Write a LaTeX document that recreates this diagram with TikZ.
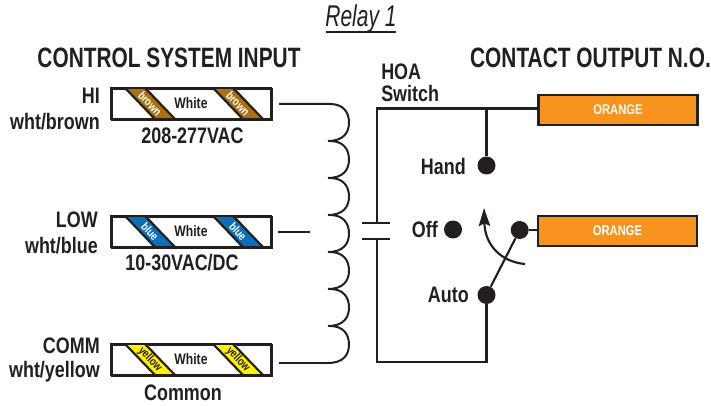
\documentclass[tikz,border=0pt]{standalone}
\usepackage{fontspec}
\setmainfont[FakeStretch=0.80]{Liberation Sans}
\newfontfamily\headfont[FakeStretch=0.745]{Liberation Sans}
\newfontfamily\titlefont[FakeStretch=0.70]{Liberation Sans}
\usetikzlibrary{arrows.meta}
\definecolor{ink}{HTML}{231F20}
\definecolor{orangeC}{HTML}{F7941E}
\definecolor{brownC}{HTML}{A9720E}
\definecolor{blueC}{HTML}{0A6EB8}
\definecolor{yellowC}{HTML}{FFF200}
\tikzset{
  wire/.style={draw=ink,line width=1.6pt},
  thin wire/.style={draw=ink,line width=1.5pt},
  tag/.style={draw=ink,line width=1.6pt,fill=white},
  lab/.style={inner sep=0pt,text=ink,font=\fontsize{16.8}{18}\selectfont\bfseries},
  head/.style={inner sep=0pt,text=ink,font=\headfont\fontsize{21}{23}\selectfont\bfseries},
  stripetxt/.style={inner sep=0pt,rotate=-47,font=\fontsize{8.8}{10}\selectfont\bfseries},
  dot/.style={circle,fill=ink,inner sep=0pt,minimum size=13.5pt},
  outbox/.style={draw=ink,line width=1.8pt,fill=orangeC,inner sep=0pt,minimum width=119.5pt,minimum height=22.5pt,
     text=white,font=\fontsize{10.5}{12}\selectfont\bfseries},
}
\newcommand{\wiretag}[5]{% #1 name, #2 top y, #3 color, #4 label, #5 label colour
  \node[tag,inner sep=0pt,minimum width=120pt,minimum height=23pt,anchor=north west] (#1) at (111,#2) {};
  \foreach \sx in {0,88}{
    \fill[#3] ({125+\sx},#2) -- ({147+\sx},#2) -- ({175+\sx},{#2+31}) -- ({153+\sx},{#2+31}) -- cycle;
    \draw[wire] ({125+\sx},#2) -- ({155+\sx},{#2+31});
    \draw[wire] ({145+\sx},#2) -- ({175+\sx},{#2+31});
    \node[stripetxt,text=#5] at ({150+\sx},{#2+15.5}) {#4};
  }
  \draw[tag,fill=none] (111,#2) rectangle (271,{#2+31});
  \node[lab,font=\fontsize{11.4}{13}\selectfont\bfseries] at (191,{#2+15.5}) {White};
}
\begin{document}
\begin{tikzpicture}[x=0.75pt,y=-0.75pt]
\useasboundingbox (0,0) rectangle (711,406);
% title
\node[inner sep=0pt,text=ink,font=\titlefont\fontsize{22.5}{24}\selectfont\itshape] (title) at (361,19) {Relay 1};
\coordinate (ul) at (326,32); \coordinate (ur) at (396,32);
\draw[draw=ink,line width=0.8pt] (ul) -- (ur);
\node[head] (h1) at (169,58) {CONTROL SYSTEM INPUT};
\node[head] (h2) at (590.5,58) {CONTACT OUTPUT N.O.};
% tags
\wiretag{t1}{88}{brownC}{brown}{white}
\wiretag{t2}{216}{blueC}{blue}{white}
\wiretag{t3}{344}{yellowC}{yellow}{ink}
\node[lab,anchor=east] (l1) at (100,96) {HI};
\node[lab,anchor=east] (l2) at (100,122) {wht/brown};
\node[lab] (l3) at (192.5,136) {208-277VAC};
\node[lab,anchor=east] (l4) at (98,220) {LOW};
\node[lab,anchor=east] (l5) at (98,246) {wht/blue};
\node[lab] (l6) at (182,263) {10-30VAC/DC};
\node[lab,anchor=east] (l7) at (100,346) {COMM};
\node[lab,anchor=east] (l8) at (100,372) {wht/yellow};
\node[lab] (l9) at (183,393) {Common};
% coil
\coordinate (c0) at (279,104);
\coordinate (m0) at (278,232.5); \coordinate (m1) at (310,232.5);
\draw[thin wire] (c0) -- (330,104)
  foreach \y in {104,141,178,215,252,289,326}{
    (330,\y) .. controls (343,\y) and (349,{\y+8}) .. (349,{\y+18.5})
             .. controls (349,{\y+29}) and (343,{\y+37}) .. (328,{\y+37})
  };
\coordinate (c1) at (279,363);
\draw[thin wire] (c1) -- (330,363);
\draw[thin wire] (m0) -- (m1);
% output boxes
\node[outbox] (o1) at (618,110) {ORANGE};
\node[outbox] (o2) at (617.5,231) {ORANGE};
% dots
\node[dot] (hand) at (486.5,165.5) {};
\node[dot] (off) at (453,229.5) {};
\node[dot] (com) at (519.7,230) {};
\node[dot] (auto) at (486.5,295) {};
\node[lab,anchor=east] (tH) at (466,166) {Hand};
\node[lab,anchor=east] (tO) at (438,229) {Off};
\node[lab,anchor=east] (tA) at (469,295) {Auto};
\node[lab,anchor=west] (tS1) at (381,72) {HOA};
\node[lab,anchor=west] (tS2) at (381,93) {Switch};
% HOA circuit
\coordinate (tl) at (376.7,108.5);
\coordinate (p1) at (376.7,223); \coordinate (p2) at (376.7,239);
\coordinate (bl) at (376.7,362);
\coordinate (tj) at (hand |- tl);
\coordinate (br) at (auto |- bl);
\draw[wire] (p1) -- (tl) -- (o1.west |- tl);
\draw[wire] (tj) -- (hand);
\draw[wire,line join=miter] (p2) -- (bl) -- (br) -- (auto);
\draw[wire] (362,223) -- (390,223);
\draw[wire] (362,239) -- (390,239);
\draw[wire] (com) -- (com -| o2.west);
\draw[wire] (auto) -- (com);
% motion arrow
\coordinate (a0) at (525,264); \coordinate (a1) at (484,208);
\draw[wire,-{Stealth[length=13.5pt,width=8.5pt,inset=2pt]}] (a0) .. controls (502,262) and (485,246) .. (a1);
\end{tikzpicture}
\end{document}
